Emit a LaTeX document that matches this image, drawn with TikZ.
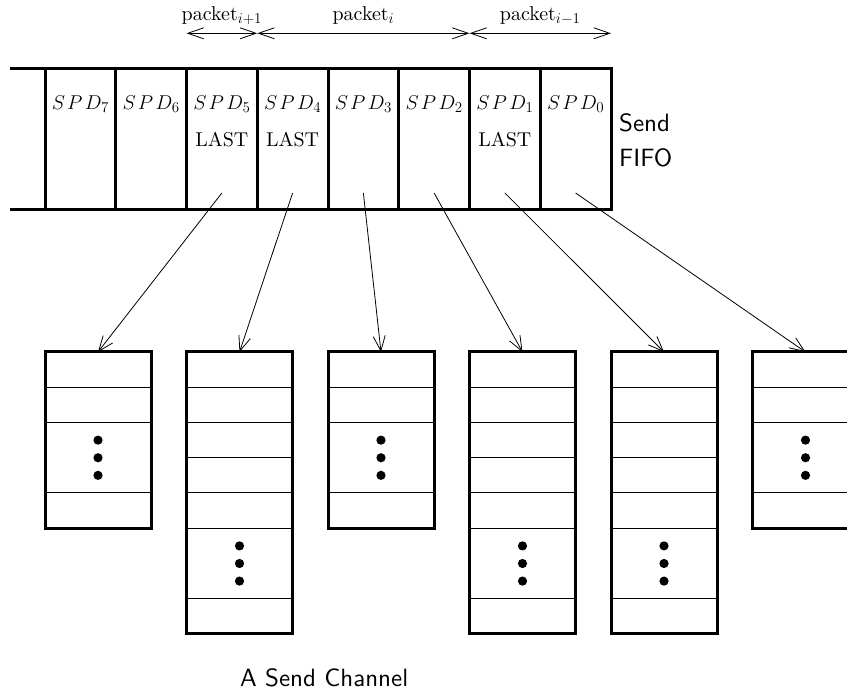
\RequirePackage{fix-cm}
\documentclass[tikz,border=0pt]{standalone}
\usepackage{fontspec}
\setmainfont{lmroman10-regular.otf}
\setsansfont{lmsans10-regular.otf}
\DeclareMathSizes{20}{20}{15}{12}
\usetikzlibrary{arrows.meta}
\newcommand\spdname[1]{$S\mkern2mu P\mkern2mu D_{#1}$}
\begin{document}
\begin{tikzpicture}[x=1pt,y=-1pt,
  fifoline/.style={line width=3pt},
  cellbox/.style={draw, line width=3pt, minimum width=70.75pt, minimum height=141pt,
                  inner sep=0pt, outer sep=0pt, anchor=north west},
  chanbox/.style={draw, line width=3pt, minimum width=106pt,
                  inner sep=0pt, outer sep=0pt, anchor=north west},
  rowline/.style={line width=1pt},
  ptr/.style={line width=0.8pt, -{Straight Barb[length=15pt,width=12pt]}},
  span/.style={line width=0.8pt, {Straight Barb[length=16pt,width=11pt]}-{Straight Barb[length=16pt,width=11pt]}},
  lbl/.style={font=\fontsize{20}{24}\selectfont, inner sep=0pt},
  sanslbl/.style={font=\sffamily\fontsize{25}{35}\selectfont, inner sep=0pt}
]
\clip (0,0) rectangle (847,692);

% --- send FIFO: eight descriptor cells ---
\foreach \k [count=\j from 0] in {7,6,...,0} {
  \node[cellbox] (c\k) at ({45+70.75*\j},69) {};
  \node[lbl, anchor=base] (l\k) at ({80.375+70.75*\j},110) {\spdname{\k}};
}
\draw[fifoline] (10,69) -- (c7.north west);
\draw[fifoline] (10,210) -- (c7.south west);

\foreach \k/\j in {5/2,4/3,1/6}
  \node[lbl, anchor=base] (last\k) at ({80.375+70.75*\j},146.7) {LAST};

\node[sanslbl, anchor=base west, align=left] (fifo) at (619,166.7) {Send\\FIFO};

% --- packet extents ---
\coordinate (p0) at (186.5,33.3);
\coordinate (p1) at (257.25,33.3);
\coordinate (p2) at (469.5,33.3);
\coordinate (p3) at (611,33.3);
\draw[span] (p0) -- (p1);
\draw[span] (p1) -- (p2);
\draw[span] (p2) -- (p3);
\node[lbl, anchor=base] (pk1) at (221.9,20.5) {packet$_{i+1}$};
\node[lbl, anchor=base] (pk2) at (363.4,20.5) {packet$_{i}$};
\node[lbl, anchor=base] (pk3) at (540.2,20.5) {packet$_{i-1}$};

% --- send channel buffers ---
\foreach \n/\h in {1/176.25,2/282,3/176.25,4/282,5/282,6/176.25}
  \node[chanbox, minimum height=\h pt] (b\n) at ({45+141.5*(\n-1)},352) {};

% row separators of the short buffers
\foreach \n in {1,3,6} {
  \foreach \r in {1,2,4}
    \draw[rowline] ([yshift=-35.25*\r pt]b\n.north west) -- ([yshift=-35.25*\r pt]b\n.north east);
  \foreach \d in {-17.6,0,17.6}
    \fill ([yshift={-105.75pt+\d pt}]b\n.north) circle (4.6pt);
}
% row separators of the long buffers
\foreach \n in {2,4,5} {
  \foreach \r in {1,2,3,4,5,7}
    \draw[rowline] ([yshift=-35.25*\r pt]b\n.north west) -- ([yshift=-35.25*\r pt]b\n.north east);
  \foreach \d in {-17.6,0,17.6}
    \fill ([yshift={-211.5pt+\d pt}]b\n.north) circle (4.6pt);
}

% --- descriptor pointers ---
\foreach \k/\j in {5/2,4/3,3/4,2/5,1/6,0/7}
  \coordinate (s\k) at ({80.375+70.75*\j},193);
\draw[ptr] (s5) -- (b1.north);
\draw[ptr] (s4) -- (b2.north);
\draw[ptr] (s3) -- (b3.north);
\draw[ptr] (s2) -- (b4.north);
\draw[ptr] (s1) -- (b5.north);
\draw[ptr] (s0) -- (b6.north);

\node[sanslbl, anchor=base west] (chan) at (240,686) {A Send Channel};
\end{tikzpicture}
\end{document}
